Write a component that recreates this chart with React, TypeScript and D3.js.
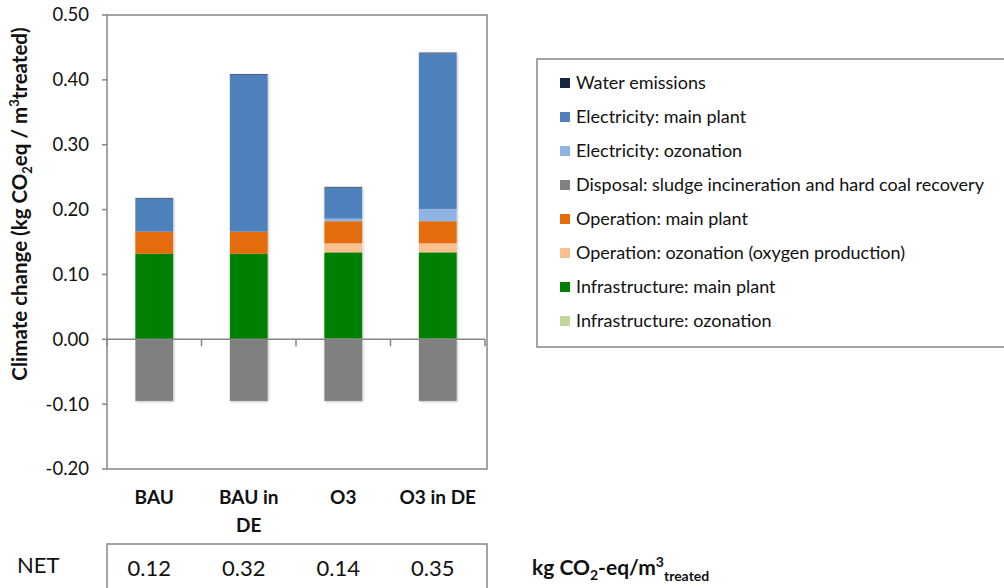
import React from 'react';
import * as d3 from 'd3';

// scenarios on the x axis
const categories = ['BAU', 'BAU in DE', 'O3', 'O3 in DE'];
const categoryLines = [['BAU'], ['BAU in', 'DE'], ['O3'], ['O3 in DE']];

// contributions, kg CO2-eq / m3 treated
const infraOzonation = [0, 0, 0.001, 0.001];
const infraMainPlant = [0.132, 0.132, 0.133, 0.133];
const opOzonation = [0, 0, 0.014, 0.014];
const opMainPlant = [0.034, 0.034, 0.034, 0.034];
const disposal = [-0.095, -0.095, -0.095, -0.095];
const elecOzonation = [0, 0, 0.004, 0.019];
const elecMainPlant = [0.051, 0.242, 0.048, 0.240];
const waterEmissions = [0.001, 0.001, 0.001, 0.001];

const netValues = ['0.12', '0.32', '0.14', '0.35'];
const yTicks = [-0.2, -0.1, 0, 0.1, 0.2, 0.3, 0.4, 0.5];

// stacking order, bottom to top
const series = [
  { key: 'infraOz', name: 'Infrastructure: ozonation', color: '#C3D69B', values: infraOzonation },
  { key: 'infraMain', name: 'Infrastructure: main plant', color: '#008000', values: infraMainPlant },
  { key: 'opOz', name: 'Operation: ozonation (oxygen production)', color: '#FAC090', values: opOzonation },
  { key: 'opMain', name: 'Operation: main plant', color: '#E46C0A', values: opMainPlant },
  { key: 'disposal', name: 'Disposal: sludge incineration and hard coal recovery', color: '#808080', values: disposal },
  { key: 'elecOz', name: 'Electricity: ozonation', color: '#8EB4E3', values: elecOzonation },
  { key: 'elecMain', name: 'Electricity: main plant', color: '#4F81BD', values: elecMainPlant },
  { key: 'water', name: 'Water emissions', color: '#17263F', values: waterEmissions },
];

const FONT = 'Lato, "Open Sans", sans-serif';

export default function App() {
  const width = 1004;
  const height = 588;
  const plot = { left: 107, right: 487, top: 15, bottom: 469 };

  const rows = categories.map((c, i) => {
    const r: any = { category: c };
    series.forEach(s => { r[s.key] = s.values[i]; });
    return r;
  });

  const stacked = d3.stack<any>()
    .keys(series.map(s => s.key))
    .offset(d3.stackOffsetDiverging)(rows);

  const x = d3.scaleBand().domain(categories).range([plot.left, plot.right - 2]).paddingInner(0.6).paddingOuter(0.3);
  const xOuter = d3.scaleBand().domain(categories).range([plot.left, plot.right - 2]);
  const y = d3.scaleLinear().domain([-0.2, 0.5]).range([plot.bottom, plot.top]);
  const fmt = (v: number) => (v < 0 ? '-' : '') + d3.format('.2f')(Math.abs(v));

  const legendItems = series.slice().reverse();
  const axisColor = '#868686';

  return (
    <svg width={width} height={height} style={{ position: 'absolute', left: 0, top: 0, background: '#fff' }}>
      <defs>
        <filter id="shadow" x="-20%" y="-20%" width="140%" height="140%">
          <feDropShadow dx="1" dy="1" stdDeviation="1" floodColor="#000" floodOpacity="0.25" />
        </filter>
      </defs>

      {/* plot frame */}
      <rect x={plot.left} y={plot.top} width={plot.right - plot.left} height={plot.bottom - plot.top}
        fill="none" stroke={axisColor} strokeWidth={1.5} />

      {/* y ticks */}
      {yTicks.map(t => (
        <g key={t}>
          <line x1={plot.left - 5} x2={plot.left} y1={y(t)} y2={y(t)} stroke={axisColor} strokeWidth={1.5} />
          <text x={89} y={y(t)} dy="0.35em" textAnchor="end" fontFamily={FONT} fontSize={18.5} fill="#111">{fmt(t)}</text>
        </g>
      ))}

      {/* bars */}
      <g filter="url(#shadow)">
        {stacked.map((layer, li) => (
          <g key={layer.key} fill={series[li].color}>
            {layer.map((d, i) => {
              const y0 = y(Math.max(d[0], d[1]));
              const y1 = y(Math.min(d[0], d[1]));
              if (Math.abs(y1 - y0) < 0.01) return null;
              return <rect key={i} x={x(categories[i])} y={y0} width={x.bandwidth()} height={y1 - y0} />;
            })}
          </g>
        ))}
      </g>

      {/* zero line with category ticks */}
      <line x1={plot.left} x2={plot.right - 2} y1={y(0)} y2={y(0)} stroke={axisColor} strokeWidth={1.5} />
      {categories.concat(['end']).map((c, i) => {
        const xx = i < categories.length ? (xOuter(c) as number) : plot.right - 2;
        return <line key={c} x1={xx} x2={xx} y1={y(0)} y2={y(0) + 7} stroke={axisColor} strokeWidth={1.5} />;
      })}

      {/* category labels */}
      {categoryLines.map((lines, i) => (
        <text key={i} textAnchor="middle" fontFamily={FONT} fontSize={19} fontWeight="bold" fill="#111">
          {lines.map((l, j) => (
            <tspan key={j} x={(xOuter(categories[i]) as number) + xOuter.bandwidth() / 2} y={504 + j * 28}>{l}</tspan>
          ))}
        </text>
      ))}

      {/* y axis title */}
      <text transform={`translate(27,${(plot.top + plot.bottom) / 2 - 38}) rotate(-90)`} textAnchor="middle"
        fontFamily={FONT} fontSize={20.5} fontWeight="bold" fill="#111">
        Climate change (kg CO<tspan fontSize={13} dy={5}>2</tspan><tspan dy={-5}>eq / m</tspan>
        <tspan fontSize={13} dy={-8}>3</tspan><tspan dy={8}>treated)</tspan>
      </text>

      {/* legend */}
      <rect x={537} y={59} width={480} height={288} fill="#fff" stroke={axisColor} strokeWidth={1.5} />
      {legendItems.map((s, i) => {
        const cy = 83 + i * 34;
        return (
          <g key={s.key}>
            <rect x={560} y={cy - 5} width={10} height={10} fill={s.color} />
            <text x={576} y={cy} dy="0.35em" fontFamily={FONT} fontSize={18} fill="#111">{s.name}</text>
          </g>
        );
      })}

      {/* NET row */}
      <text x={17} y={565} dy="0.35em" fontFamily={FONT} fontSize={22} fill="#111">NET</text>
      <rect x={plot.left} y={544} width={plot.right - plot.left} height={60} fill="#fff" stroke={axisColor} strokeWidth={1.5} />
      {netValues.map((v, i) => (
        <text key={i} x={(xOuter(categories[i]) as number) + xOuter.bandwidth() / 2 - 5} y={568} dy="0.35em"
          textAnchor="middle" fontFamily={FONT} fontSize={22} fill="#111">{v}</text>
      ))}
      <text x={532} y={568} dy="0.35em" fontFamily={FONT} fontSize={21} fontWeight="bold" fill="#111">
        kg CO<tspan fontSize={14} dy={5}>2</tspan><tspan dy={-5}>-eq/m</tspan>
        <tspan fontSize={14} dy={-8}>3</tspan><tspan fontSize={14} dy={14}>treated</tspan>
      </text>
    </svg>
  );
}
